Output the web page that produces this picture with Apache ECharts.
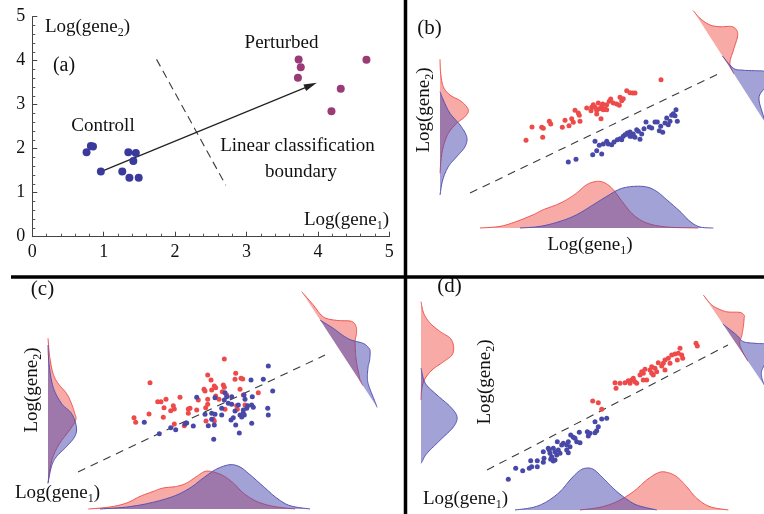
<!DOCTYPE html>
<html><head><meta charset="utf-8">
<script src="https://cdn.jsdelivr.net/npm/echarts@6/dist/echarts.min.js"></script>
<style>html,body{margin:0;padding:0;background:#fff}#c{width:764px;height:514px}</style>
</head><body><div id="c"></div>
<script>
// ---------------- DATA ----------------
// Panel (a)
const aTicks = [0, 1, 2, 3, 4, 5];
const aControl = [[0.76,1.92],[0.82,2.06],[0.85,2.05],[0.96,1.48],[1.26,1.48],[1.345,1.92],[1.36,1.34],[1.415,1.72],[1.45,1.90],[1.49,1.34]];
const aPerturbed = [[3.73,4.03],[3.76,3.85],[3.72,3.61],[4.68,4.02],[4.32,3.36],[4.19,2.85]];
const aArrow = [[0.96,1.48],[3.90,3.44]];
const aBoundary = [[1.74,4.03],[2.71,1.17]];

// Panel (b)
const bRed = [[8.6,8.97],[9.2,10.3],[10.17,10.27],[10.33,10.17],[10.27,9.27],[10.93,10.87],[11.07,10.6],[12.23,10.27],[12.5,10.97],[12.9,10.43],[13.17,11.13],[13.33,10.77],[14.0,10.87],[13.5,11.97],[13.83,11.7],[13.93,11.47],[14.67,12.2],[15.1,11.93],[15.33,12.53],[15.5,12.27],[15.67,11.97],[15.83,12.7],[15.93,12.13],[16.17,12.37],[16.33,12.03],[16.5,12.13],[16.1,11.13],[15.67,11.6],[16.67,12.53],[16.93,12.87],[17.07,13.1],[17.33,12.7],[17.67,12.6],[17.93,12.47],[18.0,13.27],[18.17,12.93],[18.33,13.13],[18.67,13.93],[19.0,13.73],[19.27,13.7],[19.5,13.7],[22.1,15.03],[15.17,12.27],[16.67,12.03],[16.27,12.6]];
const bBlue = [[12.83,6.8],[13.6,7.07],[15.27,7.53],[15.67,7.93],[16.17,7.6],[15.5,8.87],[15.93,8.47],[16.33,8.6],[16.67,8.87],[16.83,8.6],[17.17,8.53],[17.4,8.8],[17.73,9.03],[18.0,9.13],[18.17,9.03],[18.5,9.53],[18.73,9.7],[19.0,9.8],[19.17,9.37],[19.33,9.6],[19.5,9.27],[19.83,9.87],[20.0,9.07],[20.17,9.6],[20.4,10.13],[20.6,10.8],[20.93,10.3],[21.17,10.2],[21.5,10.8],[21.73,10.8],[21.93,9.93],[22.07,10.37],[22.27,9.77],[22.5,10.7],[22.67,11.2],[22.83,10.53],[23.0,10.87],[23.17,11.47],[23.33,11.63],[23.5,11.43],[23.6,12.03],[23.73,10.87],[19.0,9.37],[18.83,9.6],[19.67,10.03],[18.33,9.37]];
const bBoundary = [[3.0,3.7],[27.8,15.6]];
const bBottomRed = [[4.0,0],[6.0,1.6],[7.67,6.6],[9.33,13.3],[10.33,18.3],[11.67,23.3],[12.67,28.3],[13.67,35],[14.67,43.3],[15.67,46.6],[16.5,45],[17.33,38.3],[18.33,25],[19.33,13.3],[20.67,5],[22.67,1],[25.83,0]];
const bBottomBlue = [[8.0,0],[10.0,1.6],[12.0,6.6],[13.67,13.3],[15.33,23.3],[16.67,31.6],[18.0,39],[19.33,41.6],[20.67,41],[21.67,36.6],[22.67,28.3],[24.0,16.6],[25.0,6.6],[26.0,1],[27.33,0]];
const bLeftRed = [[17.07,0],[15.67,0.67],[14.33,3.3],[13.5,10],[12.83,21.7],[12.0,28.3],[11.33,25],[10.67,16.7],[9.67,8.3],[8.33,3.3],[7.0,1],[5.67,0]];
const bLeftBlue = [[13.83,0],[13.0,3.3],[11.67,10],[10.5,20],[9.33,26.7],[8.33,25],[7.33,16.7],[6.33,8.3],[5.0,2.7],[3.5,0]];
const bProjRed = [[0,0],[10,1.5],[21,6.3],[28,13.8],[34,23.6],[40,26],[46,23],[55,12.4],[64,2.4],[75,0]];
const bProjBlue = [[54,0],[70,2.5],[77,9.6],[85,21],[89,26.5],[96,32],[102,25],[108,9],[125,2.5],[135,0]];

// Panel (c)
const cRed = [[17.63,15.1],[10.2,12.73],[15.97,13.5],[16.3,13.0],[16.63,12.4],[16.77,12.23],[15.6,12.07],[15.7,11.9],[16.37,12.0],[17.53,12.5],[17.63,12.27],[17.43,11.83],[18.77,13.67],[18.7,13.07],[19.3,13.17],[19.47,13.1],[19.2,12.07],[19.53,11.5],[21.03,11.73],[17.87,11.5],[16.77,11.4],[15.97,11.07],[15.97,10.57],[17.1,11.07],[15.03,11.0],[13.2,11.27],[11.8,11.07],[11.3,10.83],[10.97,10.83],[11.6,10.23],[12.53,10.43],[12.63,10.1],[12.27,9.93],[14.03,10.1],[14.2,10.17],[14.87,10.0],[14.03,9.67],[11.53,9.27],[10.1,9.6],[8.6,9.23],[8.77,8.77],[12.63,8.6],[13.63,8.43],[15.8,8.9],[16.63,8.9],[17.7,10.07],[18.87,10.43],[18.93,10.07],[19.7,10.5],[15.77,10.23],[16.53,9.07]];
const cBlue = [[22.03,14.4],[21.53,13.07],[20.3,13.0],[22.47,11.9],[17.7,11.73],[17.87,11.33],[18.37,11.33],[17.63,11.0],[16.7,11.23],[14.87,11.27],[19.6,11.5],[20.43,11.33],[19.7,11.07],[18.03,10.67],[18.37,10.57],[19.03,10.5],[19.97,10.43],[20.37,10.5],[20.53,10.27],[19.87,10.17],[19.53,10.0],[16.37,9.67],[16.7,9.57],[15.7,9.57],[17.37,10.17],[17.37,9.5],[18.7,9.9],[19.2,9.5],[19.37,9.3],[19.63,9.5],[18.53,9.23],[18.3,9.0],[16.37,9.07],[16.63,8.5],[16.03,8.43],[14.53,8.4],[13.7,8.6],[13.87,8.7],[12.77,8.03],[12.27,8.23],[11.13,7.63],[9.63,8.77],[20.37,8.67],[19.13,7.7],[21.97,10.17],[22.03,9.5],[16.57,7.07],[18.77,8.5],[19.53,9.67]];
const cBoundary = [[3.0,3.8],[27.7,15.5]];
const cBottomRed = [[4.03,0],[6.2,2],[7.87,6],[9.2,12.6],[10.53,17.6],[11.53,21],[12.87,22.6],[13.87,26],[14.87,32.6],[15.7,37.6],[16.53,37],[17.53,33.3],[18.53,26],[19.53,16],[20.87,7.6],[22.53,2.6],[24.7,0]];
const cBottomBlue = [[5.2,0],[7.87,2],[10.2,6],[12.53,12.6],[14.2,21],[15.53,31],[16.87,40],[18.2,44.3],[19.2,42],[20.2,34.3],[21.53,22.6],[22.87,11],[24.2,3.3],[26.2,0]];
const cLeftRed = [[17.17,0],[15.33,1.7],[13.67,5],[12.67,10],[11.67,18.4],[10.67,23.4],[9.67,26.7],[9.0,27.7],[8.0,21.7],[6.67,11.7],[5.33,5],[4.0,1.7],[2.67,0]];
const cLeftBlue = [[16.5,0],[14.67,1],[12.33,5],[10.67,13.4],[9.67,23.4],[8.33,28.4],[7.33,26.7],[6.33,18.4],[5.33,8.4],[4.33,3.4],[2.67,0]];
const cProjRed = [[0,0],[17,2.4],[33,4.4],[43,13.5],[52,25.5],[59,26.4],[65,23],[70,18.3],[80,12],[90,7],[100,3],[106,0.7],[112,0]];
const cProjBlue = [[34,0],[48,6.5],[60,11],[68,15.5],[77,23.4],[84,25.5],[88,24.4],[95,19],[99,14.8],[108,8],[116,4.7],[132,1.4],[138,0]];

// Panel (d)
const dRed = [[17.17,10.9],[17.73,10.73],[18.07,10.07],[19.4,12.73],[19.5,12.17],[19.9,12.67],[20.4,12.73],[20.73,12.93],[20.9,12.67],[21.07,13.0],[21.23,13.17],[21.4,12.83],[21.57,12.67],[21.9,13.5],[22.07,13.83],[22.23,13.67],[22.4,14.07],[22.57,13.0],[22.9,14.0],[23.07,14.33],[23.07,13.67],[23.4,14.17],[23.57,13.83],[23.73,14.73],[24.07,14.4],[24.23,14.67],[24.4,14.0],[24.4,15.0],[24.73,15.17],[24.9,14.67],[25.07,15.5],[25.4,15.6],[25.63,15.0],[25.73,15.67],[25.9,16.17],[26.07,15.5],[26.17,15.17],[27.5,16.67],[27.63,16.4],[23.23,13.5],[22.23,13.0]];
const dBlue = [[8.73,3.07],[9.47,4.17],[10.17,3.93],[10.83,4.17],[10.97,4.93],[11.07,4.33],[11.63,4.93],[11.63,4.33],[12.23,4.77],[12.3,5.17],[12.23,5.83],[12.73,6.17],[12.9,5.67],[13.07,5.33],[13.23,4.9],[12.97,5.07],[13.4,5.83],[13.57,5.5],[13.73,6.0],[13.4,5.0],[13.63,6.83],[14.07,6.5],[14.23,6.67],[14.57,6.5],[14.73,6.83],[14.9,6.33],[14.73,5.73],[14.97,7.5],[15.23,7.27],[15.4,7.17],[15.57,6.83],[15.83,7.77],[15.9,6.73],[16.63,7.83],[16.73,7.4],[16.9,7.67],[17.4,7.73],[17.57,7.93],[17.73,8.33],[17.4,8.83],[18.07,9.1],[18.57,9.17],[13.23,6.17],[13.9,5.67],[12.83,6.0],[14.57,6.0]];
const dBoundary = [[6.6,4.0],[30.7,16.5]];
const dBottomBlue = [[9.4,0],[11.23,2.7],[12.57,8.3],[13.9,18.3],[14.9,30],[15.73,38.3],[16.4,41.7],[17.23,40.7],[18.23,31.7],[19.23,21.7],[20.23,13.3],[21.57,5],[23.57,0]];
const dBottomRed = [[15.9,0],[17.9,2.7],[19.57,8.3],[21.23,18.3],[22.57,30],[23.73,37.3],[24.57,37.7],[25.57,33.3],[26.57,23.3],[27.57,11.7],[28.9,3.3],[30.73,0]];
const dLeftRed = [[20.83,0],[19.67,2.7],[18.67,9.3],[17.83,19.3],[17.17,29.3],[16.33,32.6],[15.5,31],[14.83,22.6],[14.0,11],[13.0,3.3],[12.0,0.6],[11.0,0]];
const dLeftBlue = [[14.17,0],[12.67,4.3],[11.5,16],[10.33,29.3],[9.33,36],[8.33,32.6],[7.0,19.3],[5.67,6],[4.83,1],[4.67,0]];
const dProjRed = [[0,0],[11,1],[18,3.7],[27,10],[35,20.7],[40,22.5],[42,21],[48,16],[55,9.4],[60,3.4],[68,1],[80,0]];
const dProjBlue = [[35,0],[52,5.3],[61,7.1],[69,15.9],[74,22.7],[80,30],[86,24],[92,12],[96,5.5],[102,2],[110,0]];

// ---------------- STYLE / LAYOUT ----------------
const SERIF = 'Liberation Serif';
const RED_PT = '#ee4a4a', BLUE_PT = '#4848a8';
const RED_FILL = 'rgba(242,88,78,0.5)', RED_LINE = '#f0504c';
const BLUE_FILL = 'rgba(70,70,175,0.5)', BLUE_LINE = '#5252b4';
const PROJ_K = 0.1; // projection units -> scatter data units

// projection axes (layout of the rotated marginals), in scatter data units
const projB = {S:[25.33,21.93], u:[0.54,-0.84], n:[0.84,0.54]};
const projC = {S:[25.37,21.83], u:[0.546,-0.838], n:[0.838,0.546]};
const projD = {S:[28.23,21.5], u:[0.559,-0.829], n:[0.829,0.559]};

function spline(pts, steps) {
  const out = [];
  for (let i = 0; i < pts.length - 1; i++) {
    const p0 = pts[i - 1] || pts[i], p1 = pts[i], p2 = pts[i + 1], p3 = pts[i + 2] || pts[i + 1];
    for (let s = 0; s < steps; s++) {
      const t = s / steps, t2 = t * t, t3 = t2 * t;
      out.push([0, 1].map(k => 0.5 * ((2 * p1[k]) + (-p0[k] + p2[k]) * t +
        (2 * p0[k] - 5 * p1[k] + 4 * p2[k] - p3[k]) * t2 +
        (-p0[k] + 3 * p1[k] - 3 * p2[k] + p3[k]) * t3)));
    }
  }
  out.push(pts[pts.length - 1].slice());
  return out;
}

function density(grid, pts, mapFn, fill, stroke) {
  return {
    type: 'custom', coordinateSystem: 'cartesian2d', xAxisIndex: grid, yAxisIndex: grid,
    silent: true, data: [[0, 0]], clip: false,
    renderItem: function (params, api) {
      const px = spline(pts.map(p => api.coord(mapFn(p))), 10);
      return { type: 'group', children: [
        { type: 'polygon', shape: { points: px }, style: { fill: fill } },
        { type: 'polyline', shape: { points: px }, style: { fill: null, stroke: stroke, lineWidth: 1 } }
      ]};
    }
  };
}
const bottomMap = p => [p[0], p[1]];
const leftMap = p => [p[1], p[0]];
const projMap = pr => p => [pr.S[0] + (p[0] * pr.u[0] + p[1] * pr.n[0]) * PROJ_K,
                            pr.S[1] + (p[0] * pr.u[1] + p[1] * pr.n[1]) * PROJ_K];

function scatter(grid, data, color, size) {
  return { type: 'scatter', xAxisIndex: grid, yAxisIndex: grid, data: data, symbolSize: size,
    itemStyle: { color: color, opacity: 1 }, silent: true, z: 5 };
}
function dashed(grid, data, dash) {
  return { type: 'line', xAxisIndex: grid, yAxisIndex: grid, data: data, symbol: 'none', silent: true,
    lineStyle: { color: '#3a3a3a', width: 1.1, type: dash } };
}

// grids: 0 = a; panel b: 1 scatter, 2 bottom, 3 left; c: 4,5,6; d: 7,8,9
const G = (left, top, width, height) => ({ left, top, width, height, outerBoundsMode: 'none', containLabel: false });
const grids = [
  G(32.3, 16.7, 357, 220),
  G(440, 10, 280, 220), G(440, 178, 280, 50), G(440, 10, 50, 220),
  G(48, 290, 290, 220), G(48, 459, 290, 50), G(48, 290, 50, 220),
  G(421, 290, 310, 220), G(421, 460, 310, 50), G(421, 290, 50, 220)
];
const hid = (gi, min, max) => ({ type: 'value', gridIndex: gi, min, max, show: false, splitLine: { show: false } });
const aAxis = (gi) => ({
  type: 'value', gridIndex: gi, min: aTicks[0], max: aTicks[aTicks.length - 1], interval: 1,
  axisLine: { show: true, onZero: false, lineStyle: { color: '#444', width: 1 } },
  axisTick: { show: true, inside: true, length: 5, lineStyle: { color: '#444' } },
  minorTick: { show: true, splitNumber: 5, length: 3, lineStyle: { color: '#555' } },
  splitLine: { show: false }, minorSplitLine: { show: false },
  axisLabel: { fontFamily: SERIF, fontSize: 18, color: '#111', margin: 7 }
});
const xAxes = [aAxis(0),
  hid(1, 0, 28), hid(2, 0, 28), hid(3, 0, 50),
  hid(4, 0, 29), hid(5, 0, 29), hid(6, 0, 50),
  hid(7, 0, 31), hid(8, 0, 31), hid(9, 0, 50)];
const yAxes = [aAxis(0),
  hid(1, 0, 22), hid(2, 0, 50), hid(3, 0, 22),
  hid(4, 0, 22), hid(5, 0, 50), hid(6, 0, 22),
  hid(7, 0, 22), hid(8, 0, 50), hid(9, 0, 22)];

const series = [];
// panel a
series.push({
  type: 'scatter', xAxisIndex: 0, yAxisIndex: 0, data: aControl, symbolSize: 8, silent: true,
  itemStyle: { color: '#3a3a9c', opacity: 1 }, z: 5,
  markLine: { silent: true, symbol: ['none', 'triangle'], symbolSize: [7, 13], animation: false,
    lineStyle: { color: '#222', width: 1.2, type: 'solid' }, label: { show: false },
    data: [[{ coord: aArrow[0] }, { coord: aArrow[1] }]] }
});
series.push({ type: 'scatter', xAxisIndex: 0, yAxisIndex: 0, data: aPerturbed, symbolSize: 8, silent: true,
  itemStyle: { color: '#9a3a76', opacity: 1 }, z: 5 });
series.push(dashed(0, aBoundary, [8, 5]));

// panels b, c, d
const panels = [
  { g: 1, red: bRed, blue: bBlue, bd: bBoundary, br: bBottomRed, bb: bBottomBlue, lr: bLeftRed, lb: bLeftBlue, pr: bProjRed, pb: bProjBlue, proj: projB },
  { g: 4, red: cRed, blue: cBlue, bd: cBoundary, br: cBottomRed, bb: cBottomBlue, lr: cLeftRed, lb: cLeftBlue, pr: cProjRed, pb: cProjBlue, proj: projC },
  { g: 7, red: dRed, blue: dBlue, bd: dBoundary, br: dBottomRed, bb: dBottomBlue, lr: dLeftRed, lb: dLeftBlue, pr: dProjRed, pb: dProjBlue, proj: projD }
];
panels.forEach(P => {
  series.push(density(P.g + 1, P.br, bottomMap, RED_FILL, RED_LINE));
  series.push(density(P.g + 1, P.bb, bottomMap, BLUE_FILL, BLUE_LINE));
  series.push(density(P.g + 2, P.lr, leftMap, RED_FILL, RED_LINE));
  series.push(density(P.g + 2, P.lb, leftMap, BLUE_FILL, BLUE_LINE));
  series.push(density(P.g, P.pr, projMap(P.proj), RED_FILL, RED_LINE));
  series.push(density(P.g, P.pb, projMap(P.proj), BLUE_FILL, BLUE_LINE));
  series.push(dashed(P.g, P.bd, [8, 6]));
  series.push(scatter(P.g, P.red, RED_PT, 5));
  series.push(scatter(P.g, P.blue, BLUE_PT, 5));
});

// texts
const rich = { m: { fontFamily: SERIF, fontSize: 19, lineHeight: 24, verticalAlign: 'middle', fill: '#111' },
               s: { fontFamily: SERIF, fontSize: 12, lineHeight: 12, verticalAlign: 'bottom', fill: '#111' } };
function gtxt(x, y, sub, rot) {
  return { type: 'text', x: x, y: y, rotation: rot ? Math.PI / 2 : 0, silent: true, z: 20,
    style: { text: '{m|Log(gene}{s|' + sub + '}{m|)}', rich: rich, align: 'center', verticalAlign: 'middle' } };
}
function txt(x, y, s, size) {
  return { type: 'text', x: x, y: y, silent: true, z: 20,
    style: { text: s, fontFamily: SERIF, fontSize: size || 19, fill: '#111', align: 'center', verticalAlign: 'middle' } };
}
const graphics = [
  { type: 'line', silent: true, z: 30, shape: { x1: 405.5, y1: 0, x2: 405.5, y2: 514 }, style: { stroke: '#000', lineWidth: 3.5 } },
  { type: 'line', silent: true, z: 30, shape: { x1: 11, y1: 277, x2: 764, y2: 277 }, style: { stroke: '#000', lineWidth: 3.5 } },
  gtxt(87.5, 27, '2'), txt(64, 66, '(a)', 20), txt(281.5, 43, 'Perturbed'), txt(103, 126, 'Controll'),
  txt(297.5, 146, 'Linear classification'), txt(301, 172, 'boundary'), gtxt(346.5, 220, '1'),
  txt(429.5, 28.5, '(b)', 21), gtxt(424, 110, '2', true), gtxt(590, 245, '1'),
  txt(42.5, 289, '(c)', 21), gtxt(32, 390, '2', true), gtxt(57.5, 493, '1'),
  txt(449.5, 286, '(d)', 21), gtxt(485, 382, '2', true), gtxt(465.5, 499, '1')
];

const chart = echarts.init(document.getElementById('c'), null, { renderer: 'canvas' });
chart.setOption({
  animation: false, backgroundColor: '#fff',
  grid: grids, xAxis: xAxes, yAxis: yAxes, series: series, graphic: graphics
});
</script></body></html>
